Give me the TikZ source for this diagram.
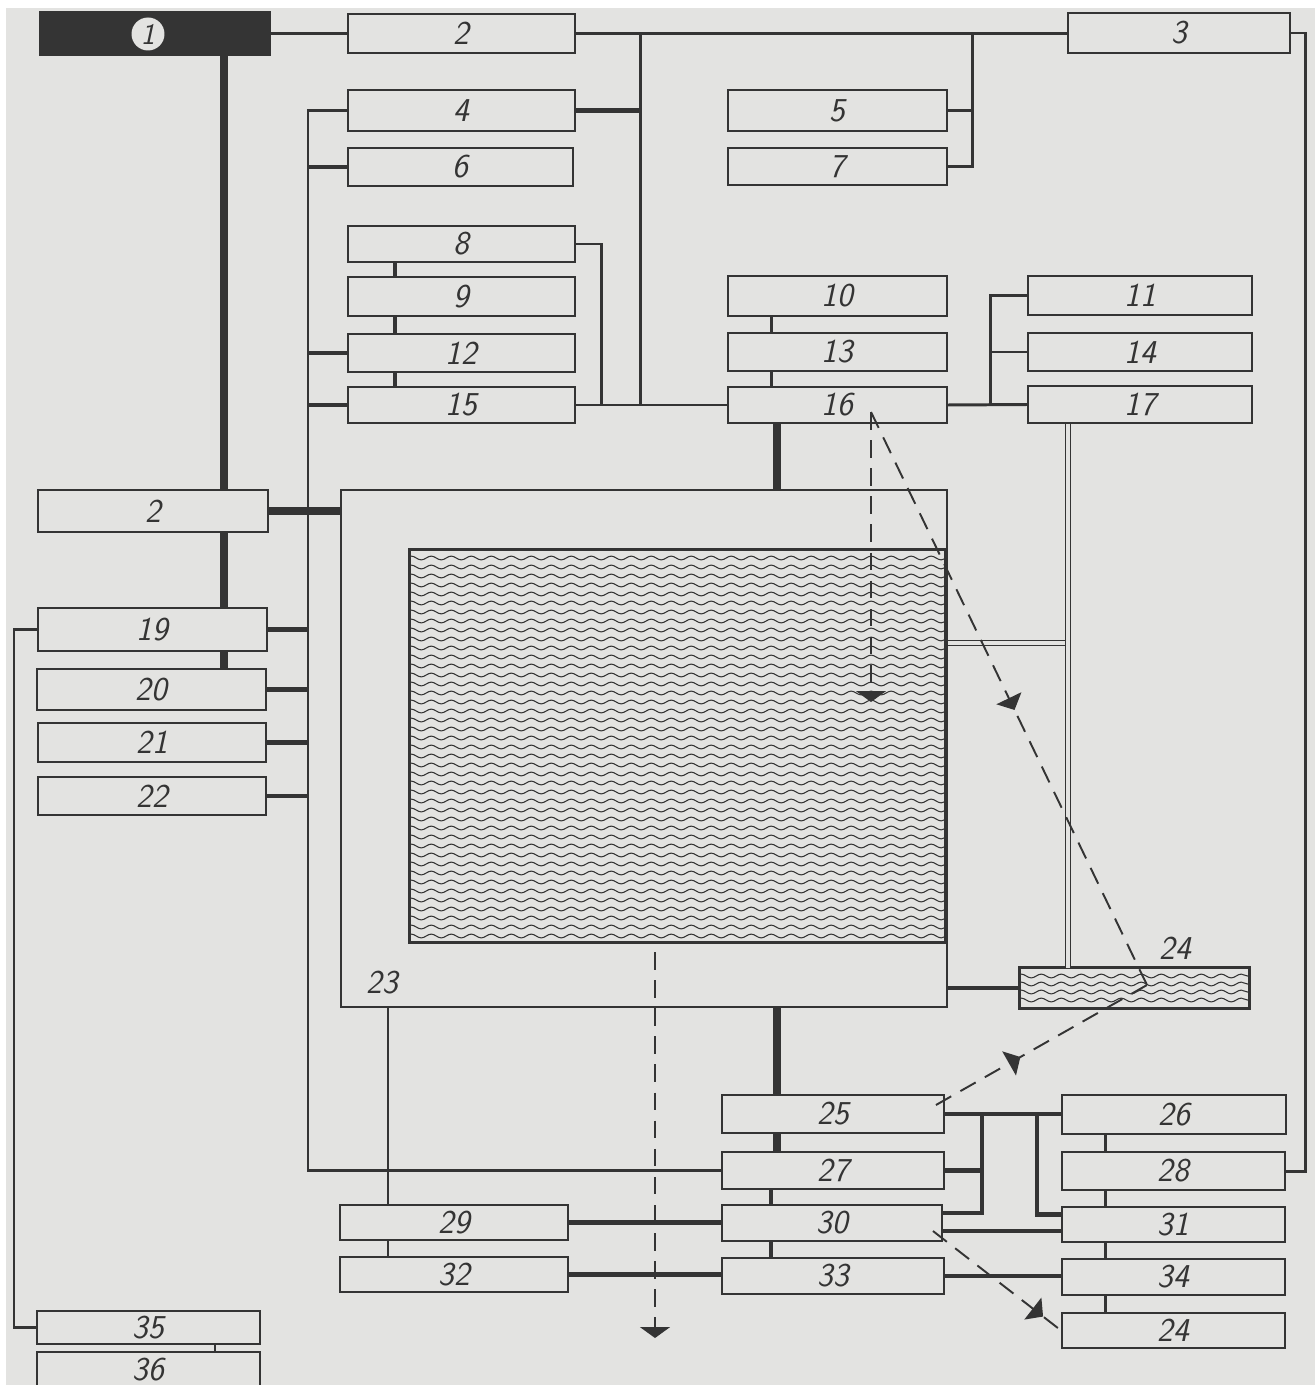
\documentclass[tikz,border=0pt]{standalone}
\usepackage{tikz}
\usepackage{xcolor}
\usetikzlibrary{arrows.meta,decorations.pathmorphing,decorations.markings,calc}

\definecolor{paper}{RGB}{227,227,225}
\definecolor{ink}{RGB}{52,52,52}

\begin{document}
\begin{tikzpicture}[x=0.02cm, y=-0.02cm,
    box/.style={rectangle, draw=ink, fill=paper, line width=1.1pt, minimum width=#1, minimum height=0.76cm, inner sep=0pt, text=ink, font=\fontsize{19}{19}\selectfont\sffamily\slshape},
    box/.default=4.5cm,
    num/.style={text=ink, inner sep=0pt, font=\fontsize{19}{19}\selectfont\sffamily\slshape},
    wire/.style={draw=ink, line width=1.2pt},
    bus/.style={draw=ink, line width=1.7pt},
    heavy/.style={draw=ink, line width=2.4pt},
    fat/.style={draw=ink, line width=4pt},
    pipe/.style={draw=ink, line width=0.6pt, double=paper, double distance=2.2pt},
    wave/.style={draw=ink, line width=0.6pt, decorate, decoration={snake, amplitude=0.038cm, segment length=0.4cm}},
    ray/.style={draw=ink, line width=1.1pt, dash pattern=on 10pt off 6pt},
    endtip/.style={-{Triangle[width=0.6cm, length=0.22cm]}},
    midtip/.style={postaction={decorate}, decoration={markings, mark=at position #1 with {\arrow{Triangle[width=0.55cm, length=0.26cm]}}}}]

    \useasboundingbox (0,0) rectangle (1315,1385);
    \clip (0,0) rectangle (1315,1385);
    \fill[white] (0,0) rectangle (1315,1385);
    \fill[paper] (6,8) rectangle (1315,1385);

    % Top row
    \node[box=4.6cm, fill=ink, minimum height=0.86cm] (b1) at (155,33.5) {};
    \node[circle, fill=paper, minimum size=0.66cm, inner sep=0pt, text=ink, font=\fontsize{17}{17}\selectfont\sffamily\slshape] (c1) at (148,34) {1};
    \node[box=4.54cm, minimum height=0.78cm] (b2) at (461.5,33.5) {2};
    \node[box=4.44cm, minimum height=0.8cm] (b3) at (1179,33) {3};

    % Upper blocks
    \node[box=4.54cm, minimum height=0.82cm] (b4) at (461.5,110.5) {4};
    \node[box=4.5cm] (b6) at (460.5,167) {6};
    \node[box=4.38cm, minimum height=0.82cm] (b5) at (837.5,110.5) {5};
    \node[box=4.38cm, minimum height=0.74cm] (b7) at (837.5,166.5) {7};

    \node[box=4.54cm, minimum height=0.72cm] (b8) at (461.5,244) {8};
    \node[box=4.54cm, minimum height=0.78cm] (b9) at (461.5,296.5) {9};
    \node[box=4.54cm] (b12) at (461.5,353) {12};
    \node[box=4.54cm, minimum height=0.72cm] (b15) at (461.5,405) {15};

    \node[box=4.38cm, minimum height=0.8cm] (b10) at (837.5,296) {10};
    \node[box=4.38cm] (b13) at (837.5,352) {13};
    \node[box=4.38cm, minimum height=0.72cm] (b16) at (837.5,405) {16};

    \node[box=4.48cm, minimum height=0.78cm] (b11) at (1140,295.5) {11};
    \node[box=4.48cm] (b14) at (1140,352) {14};
    \node[box=4.48cm, minimum height=0.74cm] (b17) at (1140,404.5) {17};

    % Left column
    \node[box=4.6cm, minimum height=0.84cm] (b2l) at (153,511) {2};
    \node[box=4.58cm, minimum height=0.86cm] (b19) at (152.5,629.5) {19};
    \node[box=4.58cm, minimum height=0.82cm] (b20) at (151.5,689.5) {20};
    \node[box=4.56cm, minimum height=0.78cm] (b21) at (152,742.5) {21};
    \node[box=4.56cm] (b22) at (152,796) {22};

    \node[box=4.46cm, minimum height=0.66cm] (b35) at (148.5,1327.5) {35};
    \node[box=4.46cm, minimum height=0.7cm] (b36) at (148.5,1369.5) {36};

    % Tank
    \node[box=12.12cm, minimum height=10.34cm] (b23) at (644,748.5) {};
    \node[num] (l23) at (382,983) {23};
    \node[rectangle, fill=paper, minimum width=10.7cm, minimum height=7.84cm, inner sep=0pt] (pool) at (677.5,746) {};
    \begin{scope}
        \clip (pool.north west) rectangle (pool.south east);
        \foreach \y in {558,567,...,938}
            \draw[wave] (405,\y) -- (950,\y);
    \end{scope}
    \draw[ink, line width=1.6pt] (pool.north west) rectangle (pool.south east);

    % Settling bath
    \node[rectangle, fill=paper, minimum width=4.58cm, minimum height=0.8cm, inner sep=0pt] (b24w) at (1134.5,988) {};
    \begin{scope}
        \clip (b24w.north west) rectangle (b24w.south east);
        \foreach \y in {976,984,992,1000}
            \draw[wave] (1015,\y) -- (1255,\y);
    \end{scope}
    \draw[ink, line width=1.4pt] (b24w.north west) rectangle (b24w.south east);
    \node[num] (l24) at (1175,948) {24};

    % Lower blocks
    \node[box=4.44cm] (b25) at (833,1114) {25};
    \node[box=4.44cm, minimum height=0.74cm] (b27) at (833,1170.5) {27};
    \node[box=4.4cm, minimum height=0.72cm] (b30) at (832,1223) {30};
    \node[box=4.44cm, minimum height=0.72cm] (b33) at (833,1276) {33};

    \node[box=4.56cm, minimum height=0.7cm] (b29) at (454,1222.5) {29};
    \node[box=4.56cm, minimum height=0.7cm] (b32) at (454,1274.5) {32};

    \node[box=4.48cm, minimum height=0.78cm] (b26) at (1174,1114.5) {26};
    \node[box=4.46cm] (b28) at (1173.5,1171) {28};
    \node[box=4.46cm, minimum height=0.7cm] (b31) at (1173.5,1224.5) {31};
    \node[box=4.46cm, minimum height=0.72cm] (b34) at (1173.5,1277) {34};
    \node[box=4.46cm, minimum height=0.7cm] (b24) at (1173.5,1330.5) {24};

    % Junctions
    \coordinate (j1) at (640,34);
    \coordinate (j2) at (972,34);
    \coordinate (j3) at (640,405);
    \coordinate (j4) at (601,405);
    \coordinate (j5) at (308,0);
    \coordinate (j6) at (224,0);
    \coordinate (j7) at (395,0);
    \coordinate (j8) at (777,0);
    \coordinate (j9) at (990,0);
    \coordinate (j10) at (1068,643);
    \coordinate (j11) at (1305,0);
    \coordinate (j12) at (14,0);
    \coordinate (j13) at (215,0);
    \coordinate (j14) at (388,0);
    \coordinate (j15) at (982,0);
    \coordinate (j16) at (1037,0);
    \coordinate (j17) at (1105,0);
    \coordinate (j18) at (771,0);

    % Top bus
    \draw[bus] (b1.east) -- (b2.west);
    \draw[bus] (b2.east) -- (b3.west |- b2.east);
    \draw[bus] (j1) -- (j3);
    \draw[heavy] (b4.east) -- (b4.east -| j1);
    \draw[bus] (j2) |- (b7.east);
    \draw[bus] (b5.east) -- (b5.east -| j2);
    \draw[bus] (b8.east) -| (j4);
    \draw[bus] (b15.east) -- (b16.west);

    % Left bus
    \draw[bus] (b4.west) -| (b27.west -| j5) -- (b27.west);
    \foreach \n in {b6,b12,b15}
        \draw[heavy] (\n.west) -- (\n.west -| j5);
    \foreach \n in {b19,b20,b21,b22}
        \draw[heavy] (\n.east) -- (\n.east -| j5);
    \draw[line width=5pt, ink] (b2l.east) -- (b2l.east -| b23.west);
    \draw[fat] (b1.south -| j6) -- (b2l.north -| j6);
    \draw[fat] (b2l.south -| j6) -- (b19.north -| j6);
    \draw[fat] (b19.south -| j6) -- (b20.north -| j6);
    \draw[bus] (b19.west) -| (b35.west -| j12) -- (b35.west);
    \draw[bus] (b35.south -| j13) -- (b36.north -| j13);

    % Stacks
    \draw[heavy] (b8.south -| j7) -- (b9.north -| j7);
    \draw[heavy] (b9.south -| j7) -- (b12.north -| j7);
    \draw[heavy] (b12.south -| j7) -- (b15.north -| j7);
    \draw[bus] (b10.south -| j18) -- (b13.north -| j18);
    \draw[bus] (b13.south -| j18) -- (b16.north -| j18);
    \draw[fat] (b16.south -| j8) -- (b23.north -| j8);

    % Right side
    \draw[bus] (b16.east) -- (b17.west);
    \draw[bus] (b11.west) -| (b17.west -| j9);
    \draw[bus] (b14.west) -- (b14.west -| j9);
    \draw[pipe] (j10 -| b23.east) -- (j10);
    \draw[pipe] (b17.south -| j10) -- (b24w.north -| j10);
    \draw[bus] (b3.east) -| (b28.east -| j11) -- (b28.east);
    \draw[heavy] (b23.east |- b24w.west) -- (b24w.west);

    % Lower part
    \draw[fat] (b23.south -| j8) -- (b25.north -| j8);
    \draw[fat] (b25.south -| j8) -- (b27.north -| j8);
    \draw[heavy] (b27.south -| j18) -- (b30.north -| j18);
    \draw[heavy] (b30.south -| j18) -- (b33.north -| j18);
    \draw[bus] (b23.south -| j14) -- (b29.north -| j14);
    \draw[bus] (b29.south -| j14) -- (b32.north -| j14);
    \draw[heavy] (b29.east) -- (b29.east -| b30.west);
    \draw[heavy] (b32.east) -- (b32.east -| b33.west);
    \draw[heavy] (b25.east) -- (b25.east -| b26.west);
    \draw[heavy] (b25.east -| j15) |- ([yshift=0.2cm]b30.east);
    \draw[heavy] (b27.east) -- (b27.east -| j15);
    \draw[heavy] (b25.east -| j16) |- ([yshift=0.2cm]b31.west);
    \draw[heavy] ([yshift=-0.16cm]b30.east) -- ([yshift=-0.16cm]b30.east -| b31.west);
    \draw[heavy] (b33.east) -- (b33.east -| b34.west);
    \draw[bus] (b26.south -| j17) -- (b28.north -| j17);
    \draw[bus] (b28.south -| j17) -- (b31.north -| j17);
    \draw[bus] (b31.south -| j17) -- (b34.north -| j17);
    \draw[bus] (b34.south -| j17) -- (b24.north -| j17);

    % Dashed flows
    \coordinate (s16) at (871,412);
    \coordinate (e16) at (871,702);
    \coordinate (w24) at (1147,985);
    \coordinate (d1) at (655,952);
    \coordinate (d2) at (655,1338);
    \draw[ray, endtip] (s16) -- (e16);
    \draw[ray, midtip=0.52] (s16) -- (w24);
    \draw[ray, midtip=0.4] ($(b25.east)+(-9,-9)$) -- (w24);
    \draw[ray, midtip=0.86] ($(b30.east)+(-10,8)$) -- (b24.west);
    \draw[ray, endtip] (d1) -- (d2);
\end{tikzpicture}
\end{document}
